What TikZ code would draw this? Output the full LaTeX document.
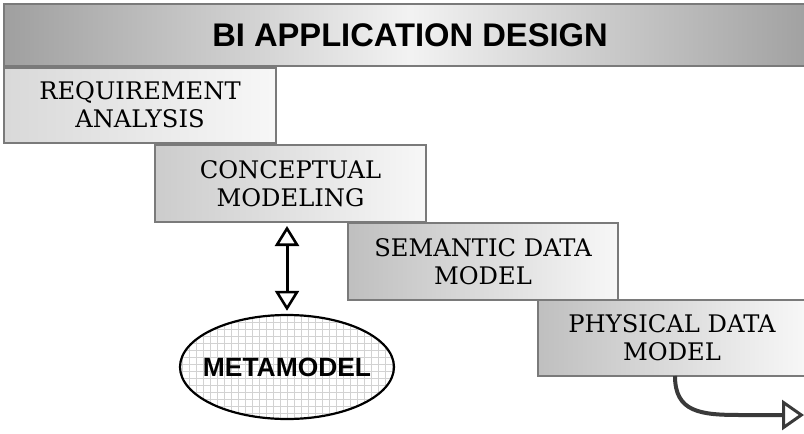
\documentclass[tikz,border=0pt]{standalone}
\usepackage{fontspec}
\newfontfamily\hfont{Liberation Sans}
\newfontfamily\sfont{DejaVu Serif}
\usetikzlibrary{arrows.meta,shapes.geometric,calc}
\definecolor{bordergray}{HTML}{7A7A7A}
\definecolor{darkarrow}{HTML}{3A3A3A}
\tikzset{
  stepbox/.style={draw=bordergray, line width=2pt, rectangle, align=center,
    font=\sfont\fontsize{24.2}{28}\selectfont, inner sep=0pt,
    left color=#1, right color=white!97!black},
  stepbox/.default={gray!45},
  titlebar/.style={draw=bordergray, line width=2pt, rectangle, inner sep=0pt,
    font=\hfont\bfseries\fontsize{32.7}{34}\selectfont,
    left color=gray!75, right color=gray!75, middle color=white!95!black},
  openboth/.style={{Triangle[open, length=20pt, width=24pt, line width=2.6pt]}-{Triangle[open, length=20pt, width=24pt, line width=2.6pt]}},
  openhead/.style={-{Triangle[open, length=22pt, width=30pt, line width=3pt]}},
}
\begin{document}
\begin{tikzpicture}[x=1pt,y=-1pt]
\useasboundingbox (0,0) rectangle (804,434);
% title
\node[titlebar, minimum width=812pt, minimum height=62pt] (title) at (410,35) {BI APPLICATION DESIGN};
% steps
\node[stepbox={gray!30}, minimum width=272pt, minimum height=75pt] (req) at (140,105) {REQUIREMENT\\ANALYSIS};
\node[stepbox={gray!40}, minimum width=271pt, minimum height=77pt] (conc) at (290.5,183.5) {CONCEPTUAL\\MODELING};
\node[stepbox={gray!50}, minimum width=270pt, minimum height=77pt] (sem) at (483,261.5) {SEMANTIC DATA\\MODEL};
\node[stepbox={gray!50}, minimum width=268pt, minimum height=76pt] (phys) at (672,338) {PHYSICAL DATA\\MODEL};
% metamodel ellipse with grid fill
\node[ellipse, minimum width=214pt, minimum height=104pt, inner sep=0pt] (meta) at (287,367) {};
\begin{scope}
  \clip (meta.center) ellipse [x radius=107pt, y radius=52pt];
  \draw[gray!35, line width=0.5pt, step=7pt] (170,305) grid (410,430);
\end{scope}
\draw[black, line width=2.2pt] (meta.center) ellipse [x radius=107pt, y radius=52pt];
\node[font=\hfont\bfseries\fontsize{26.4}{28}\selectfont] (metatext) at (meta.center) {METAMODEL};
% double arrow
\coordinate (arrtop) at ($(meta.north |- conc.south)+(0,3)$);
\coordinate (arrbot) at ($(meta.north)+(0,-4)$);
\draw[openboth, line width=3pt, black] (arrbot) -- (arrtop);
% curved arrow out of physical
\coordinate (cstart) at (675,376);
\coordinate (cend) at (804,415);
\draw[openhead, line width=4pt, darkarrow] (cstart) .. controls (675,412) and (700,415) .. (740,415) -- (cend);
\end{tikzpicture}
\end{document}
